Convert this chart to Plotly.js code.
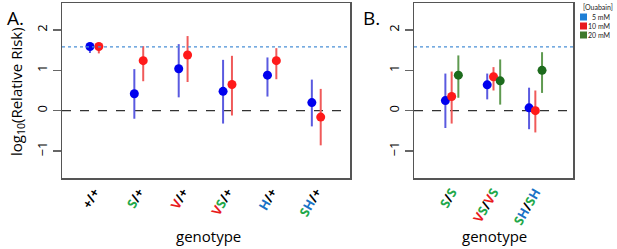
<!DOCTYPE html>
<html><head><meta charset="utf-8">
<script src="https://cdn.plot.ly/plotly-3.0.1.min.js"></script>
<style>html,body{margin:0;padding:0;background:#fff}</style>
</head><body><div id="chart" style="width:617px;height:249px"></div>
<script>
// ---- data ----
const G = '#1fa84a', R = '#e8191c', B = '#1a72c6';
const genotypesA = ['+/+', 'S/+', 'V/+', 'VS/+', 'H/+', 'SH/+'];
const tickLabelsA = [
  '+/+',
  '<span style="color:'+G+'">S</span>/+',
  '<span style="color:'+R+'">V</span>/+',
  '<span style="color:'+R+'">V</span><span style="color:'+G+'">S</span>/+',
  '<span style="color:'+B+'">H</span>/+',
  '<span style="color:'+G+'">S</span><span style="color:'+B+'">H</span>/+'
];
const genotypesB = ['S/S', 'VS/VS', 'SH/SH'];
const tickLabelsB = [
  '<span style="color:'+G+'">S</span>/<span style="color:'+G+'">S</span>',
  '<span style="color:'+R+'">V</span><span style="color:'+G+'">S</span>/<span style="color:'+R+'">V</span><span style="color:'+G+'">S</span>',
  '<span style="color:'+G+'">S</span><span style="color:'+B+'">H</span>/<span style="color:'+G+'">S</span><span style="color:'+B+'">H</span>'
];
const A5_est = [1.59, 0.42, 1.04, 0.48, 0.88, 0.20];
const A5_lo  = [1.43, -0.20, 0.33, -0.32, 0.35, -0.39];
const A5_hi  = [1.62, 1.03, 1.65, 1.26, 1.32, 0.77];
const A10_est = [1.59, 1.24, 1.38, 0.65, 1.24, -0.16];
const A10_lo  = [1.42, 0.73, 0.71, -0.12, 0.78, -0.86];
const A10_hi  = [1.62, 1.60, 1.85, 1.36, 1.55, 0.54];
const B5_est = [0.25, 0.64, 0.07];
const B5_lo  = [-0.43, 0.28, -0.46];
const B5_hi  = [0.92, 0.92, 0.57];
const B10_est = [0.35, 0.84, 0.00];
const B10_lo  = [-0.32, 0.50, -0.54];
const B10_hi  = [0.97, 1.08, 0.50];
const B20_est = [0.88, 0.74, 1.00];
const B20_lo  = [0.32, 0.15, 0.44];
const B20_hi  = [1.37, 1.27, 1.45];
const refLine = 1.58;
const legendTitle = '[Ouabain]';
const concLabels = ['5 mM', '10 mM', '20 mM'];

// ---- build ----
function tr(off, est, lo, hi, col, barcol, xa, ya) {
  const xs = est.map((_, i) => i + 1 + off);
  return {
    type: 'scatter', mode: 'markers', x: xs, y: est, xaxis: xa, yaxis: ya,
    showlegend: false, hoverinfo: 'skip',
    marker: {color: col, size: 9, line: {width: 0}},
    error_y: {type: 'data', symmetric: false,
      array: est.map((v, i) => hi[i] - v), arrayminus: est.map((v, i) => v - lo[i]),
      color: barcol, thickness: 2, width: 0}
  };
}
const blue = '#0000ee', red = '#ff1a1a', green = '#1d6b1d';
const blueBar = '#5a5ae0', redBar = '#f05a5a', greenBar = '#5f9a50';
const data = [
  tr(-0.1, A5_est, A5_lo, A5_hi, blue, blueBar, 'x', 'y'),
  tr(0.1, A10_est, A10_lo, A10_hi, red, redBar, 'x', 'y'),
  tr(-0.15, B5_est, B5_lo, B5_hi, blue, blueBar, 'x2', 'y2'),
  tr(0.0, B10_est, B10_lo, B10_hi, red, redBar, 'x2', 'y2'),
  tr(0.16, B20_est, B20_lo, B20_hi, green, greenBar, 'x2', 'y2')
];

const W = 617, H = 249;
const yr = [-1.67, 2.67];
const yDom = [1 - 178 / H, 1 - 3 / H];
const tickFont = {family: 'Open Sans, sans-serif', size: 13, color: '#000'};
function yax(anchor, dom) {
  return {domain: dom, range: yr, anchor: anchor, tickvals: [-1, 0, 1, 2], ticktext: ['\u22121', '0', '1', '2'],
    tickangle: -90, ticks: 'outside', ticklen: 8, tickwidth: 1.5, tickcolor: '#666',
    showline: true, mirror: true, linecolor: '#555', linewidth: 1.5, showgrid: false, zeroline: false,
    tickfont: tickFont, automargin: false, fixedrange: true};
}
function xax(anchor, dom, range, labels) {
  return {domain: dom, range: range, anchor: anchor, tickvals: labels.map((_, i) => i + 1), ticktext: labels,
    tickangle: -60, ticks: '', showline: true, mirror: true, linecolor: '#555', linewidth: 1.5,
    showgrid: false, zeroline: false, automargin: false,
    tickfont: {family: 'Open Sans, sans-serif', size: 13, color: '#000', weight: 'bold'}};
}
const legCols = ['#1e7fd6', '#e8181c', '#3f7a2c'];
const legFont = {family: 'Lato, sans-serif', size: 7, color: '#222'};
const shapes = [
  {type: 'line', xref: 'x domain', yref: 'y', x0: 0, x1: 1, y0: refLine, y1: refLine, line: {color: '#4a90d6', width: 1.3, dash: 'dot'}, layer: 'above'},
  {type: 'line', xref: 'x domain', yref: 'y', x0: 0, x1: 1, y0: 0, y1: 0, line: {color: '#333', width: 1.2, dash: 'dash'}, layer: 'below'},
  {type: 'line', xref: 'x2 domain', yref: 'y2', x0: 0, x1: 1, y0: refLine, y1: refLine, line: {color: '#4a90d6', width: 1.3, dash: 'dot'}, layer: 'above'},
  {type: 'line', xref: 'x2 domain', yref: 'y2', x0: 0, x1: 1, y0: 0, y1: 0, line: {color: '#333', width: 1.2, dash: 'dash'}, layer: 'below'}
];
const annotations = [
  {text: 'A.', xref: 'paper', yref: 'paper', x: 5 / W, y: 1 - 18 / H, xanchor: 'left', yanchor: 'middle', showarrow: false, font: {family: 'Open Sans, sans-serif', size: 19, color: '#000'}},
  {text: 'B.', xref: 'paper', yref: 'paper', x: 361 / W, y: 1 - 18 / H, xanchor: 'left', yanchor: 'middle', showarrow: false, font: {family: 'Open Sans, sans-serif', size: 19, color: '#000'}},
  {text: 'log<sub>10</sub>(Relative Risk)', xref: 'paper', yref: 'paper', x: 17 / W, y: 1 - 92 / H, textangle: -90, xanchor: 'center', yanchor: 'middle', showarrow: false, font: {family: 'Open Sans, sans-serif', size: 15, color: '#000'}},
  {text: 'genotype', xref: 'paper', yref: 'paper', x: 208 / W, y: 1 - 236 / H, xanchor: 'center', yanchor: 'middle', showarrow: false, font: {family: 'Open Sans, sans-serif', size: 15, color: '#000'}},
  {text: 'genotype', xref: 'paper', yref: 'paper', x: 494 / W, y: 1 - 236 / H, xanchor: 'center', yanchor: 'middle', showarrow: false, font: {family: 'Open Sans, sans-serif', size: 15, color: '#000'}},
  {text: legendTitle, xref: 'paper', yref: 'paper', x: 598 / W, y: 1 - 7 / H, xanchor: 'center', yanchor: 'middle', showarrow: false, font: legFont}
];
concLabels.forEach((l, i) => {
  const yc = 17 + i * 9;
  shapes.push({type: 'rect', xref: 'paper', yref: 'paper', x0: 580 / W, x1: 587 / W, y0: 1 - (yc + 3.5) / H, y1: 1 - (yc - 3.5) / H, fillcolor: legCols[i], line: {width: 0}});
  annotations.push({text: l, xref: 'paper', yref: 'paper', x: 611 / W, y: 1 - yc / H, xanchor: 'right', yanchor: 'middle', showarrow: false, font: legFont, borderpad: 0});
});
const layout = {
  width: W, height: H, margin: {l: 0, r: 0, t: 0, b: 0}, paper_bgcolor: '#fff', plot_bgcolor: '#fff',
  xaxis: xax('y', [62 / W, 350 / W], [0.27, 6.76], tickLabelsA),
  yaxis: yax('x', yDom),
  xaxis2: xax('y2', [414 / W, 573 / W], [0.1, 3.9], tickLabelsB),
  yaxis2: yax('x2', yDom),
  showlegend: false,
  shapes: shapes,
  annotations: annotations
};
Plotly.newPlot('chart', data, layout, {displayModeBar: false, staticPlot: true});
</script></body></html>
